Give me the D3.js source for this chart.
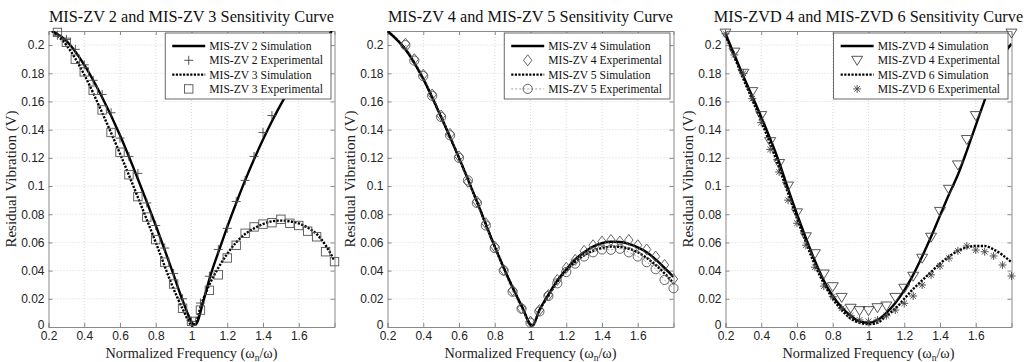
<!DOCTYPE html>
<html>
<head>
<meta charset="utf-8">
<script src="https://cdn.jsdelivr.net/npm/d3@7"></script>
<style>
  body { margin: 0; background: #fff; }
  svg { display: block; }
</style>
</head>
<body>
<svg id="chart" width="1035" height="362"></svg>
<script>
// axis ticks
const freqTicks = [0.2, 0.4, 0.6, 0.8, 1, 1.2, 1.4, 1.6];
const voltTicks = [0, 0.02, 0.04, 0.06, 0.08, 0.1, 0.12, 0.14, 0.16, 0.18, 0.2];

// panel titles
const titles = [
  'MIS-ZV 2 and MIS-ZV 3 Sensitivity Curve',
  'MIS-ZV 4 and MIS-ZV 5 Sensitivity Curve',
  'MIS-ZVD 4 and MIS-ZVD 6 Sensitivity Curve'
];

// ---- panel 1 : [frequency, volts]
const zv2Sim = [[0.22,0.21],[0.3,0.203],[0.4,0.186],[0.5,0.163],[0.6,0.136],[0.7,0.105],[0.8,0.072],
  [0.9,0.037],[0.95,0.019],[1.02,0.0015],[1.07,0.02],[1.1,0.034],[1.15,0.053],[1.2,0.071],[1.25,0.088],
  [1.3,0.104],[1.35,0.119],[1.4,0.133],[1.45,0.146],[1.5,0.158],[1.6,0.178],[1.7,0.196],[1.785,0.21]];
const zv2Exp = [[0.25,0.207],[0.3,0.204],[0.35,0.197],[0.4,0.186],[0.45,0.175],[0.5,0.165],[0.55,0.152],
  [0.6,0.134],[0.65,0.121],[0.7,0.109],[0.75,0.088],[0.8,0.072],[0.85,0.056],[0.9,0.038],[0.95,0.02],
  [1.0,0.004],[1.05,0.017],[1.1,0.036],[1.15,0.055],[1.2,0.07],[1.25,0.089],[1.3,0.104],[1.35,0.121],
  [1.4,0.138],[1.45,0.15]];
const zv3Sim = [[0.22,0.21],[0.3,0.2],[0.4,0.179],[0.5,0.152],[0.6,0.123],[0.7,0.092],[0.8,0.06],
  [0.9,0.027],[0.95,0.013],[1.01,0.0005],[1.06,0.018],[1.1,0.03],[1.15,0.042],[1.2,0.052],[1.25,0.06],
  [1.3,0.066],[1.35,0.07],[1.4,0.073],[1.45,0.075],[1.5,0.0755],[1.55,0.075],[1.6,0.0735],[1.65,0.0705],
  [1.7,0.066],[1.75,0.058],[1.8,0.047]];
const zv3Exp = [[0.25,0.209],[0.3,0.202],[0.35,0.19],[0.4,0.181],[0.45,0.168],[0.5,0.154],[0.55,0.138],
  [0.6,0.124],[0.65,0.108],[0.7,0.0925],[0.75,0.078],[0.8,0.062],[0.85,0.046],[0.9,0.0305],[0.95,0.0133],
  [1.0,0.004],[1.05,0.012],[1.1,0.026],[1.15,0.037],[1.2,0.049],[1.25,0.058],[1.3,0.0665],[1.35,0.071],
  [1.4,0.073],[1.45,0.074],[1.5,0.0764],[1.55,0.0736],[1.6,0.072],[1.65,0.068],[1.7,0.064],[1.75,0.0534],
  [1.8,0.0464]];

// ---- panel 2
const zv4Sim = [[0.2,0.21],[0.3,0.197],[0.4,0.176],[0.5,0.149],[0.6,0.12],[0.7,0.089],[0.8,0.057],
  [0.9,0.028],[0.95,0.015],[1.01,0.001],[1.05,0.012],[1.1,0.023],[1.15,0.033],[1.2,0.041],[1.25,0.048],
  [1.3,0.053],[1.35,0.057],[1.4,0.0595],[1.45,0.0605],[1.5,0.0603],[1.55,0.059],[1.6,0.0565],[1.65,0.053],
  [1.7,0.048],[1.75,0.042],[1.8,0.0355]];
const zv4Exp = [[0.3,0.201],[0.35,0.19],[0.4,0.179],[0.45,0.165],[0.5,0.15],[0.55,0.137],[0.6,0.121],
  [0.65,0.103],[0.7,0.089],[0.75,0.0736],[0.8,0.057],[0.85,0.0405],[0.9,0.026],[0.95,0.0133],[1.0,0.0038],
  [1.05,0.012],[1.1,0.0227],[1.15,0.0334],[1.2,0.042],[1.25,0.0476],[1.3,0.054],[1.35,0.058],[1.4,0.0606],
  [1.45,0.0617],[1.5,0.0606],[1.55,0.0617],[1.6,0.058],[1.65,0.055],[1.7,0.05],[1.75,0.044],[1.8,0.034]];
const zv5Sim = [[0.2,0.21],[0.3,0.197],[0.4,0.176],[0.5,0.149],[0.6,0.12],[0.7,0.089],[0.8,0.057],
  [0.9,0.028],[0.95,0.015],[1.01,0.001],[1.05,0.012],[1.1,0.022],[1.15,0.032],[1.2,0.04],[1.25,0.046],
  [1.3,0.051],[1.35,0.054],[1.4,0.056],[1.45,0.057],[1.5,0.0568],[1.55,0.0555],[1.6,0.053],[1.65,0.049],
  [1.7,0.044],[1.75,0.038],[1.8,0.031]];
const zv5Exp = [[0.3,0.2],[0.35,0.189],[0.4,0.178],[0.45,0.164],[0.5,0.149],[0.55,0.136],[0.6,0.12],
  [0.65,0.104],[0.7,0.088],[0.75,0.072],[0.8,0.056],[0.85,0.04],[0.9,0.025],[0.95,0.013],[1.0,0.003],
  [1.05,0.011],[1.1,0.022],[1.15,0.031],[1.2,0.039],[1.25,0.045],[1.3,0.05],[1.35,0.053],[1.4,0.055],
  [1.45,0.0548],[1.5,0.0555],[1.55,0.053],[1.6,0.05],[1.65,0.046],[1.7,0.041],[1.75,0.0334],[1.8,0.0275]];

// ---- panel 3
const zvd4Sim = [[0.2,0.208],[0.3,0.178],[0.4,0.149],[0.5,0.117],[0.55,0.098],[0.6,0.08],[0.65,0.063],
  [0.7,0.047],[0.75,0.033],[0.8,0.022],[0.85,0.014],[0.9,0.008],[0.95,0.004],[1.0,0.003],[1.05,0.005],
  [1.1,0.01],[1.15,0.017],[1.2,0.026],[1.25,0.037],[1.3,0.05],[1.35,0.064],[1.4,0.079],[1.45,0.094],
  [1.5,0.108],[1.55,0.125],[1.6,0.143],[1.65,0.161],[1.7,0.178],[1.75,0.192],[1.8,0.201]];
const zvd4Exp = [[0.2,0.2085],[0.25,0.195],[0.3,0.18],[0.35,0.167],[0.4,0.15],[0.45,0.1315],[0.5,0.116],
  [0.55,0.1],[0.6,0.081],[0.65,0.064],[0.7,0.052],[0.75,0.0376],[0.8,0.0286],[0.85,0.021],[0.9,0.0133],
  [0.95,0.0116],[1.0,0.0116],[1.05,0.0137],[1.1,0.0149],[1.15,0.021],[1.2,0.0275],[1.25,0.036],
  [1.3,0.0488],[1.35,0.0637],[1.4,0.082],[1.45,0.0977],[1.5,0.115],[1.55,0.133],[1.6,0.15],[1.8,0.2085]];
const zvd6Sim = [[0.2,0.207],[0.3,0.176],[0.4,0.146],[0.5,0.113],[0.55,0.095],[0.6,0.077],[0.65,0.06],
  [0.7,0.044],[0.75,0.031],[0.8,0.02],[0.85,0.012],[0.9,0.006],[0.95,0.003],[1.0,0.002],[1.05,0.003],
  [1.1,0.008],[1.15,0.013],[1.2,0.02],[1.25,0.027],[1.3,0.033],[1.35,0.039],[1.4,0.045],[1.45,0.05],
  [1.5,0.054],[1.55,0.0565],[1.6,0.0575],[1.65,0.0575],[1.7,0.055],[1.75,0.051],[1.8,0.046]];
const zvd6Exp = [[0.2,0.208],[0.25,0.193],[0.3,0.18],[0.35,0.162],[0.4,0.145],[0.45,0.126],[0.5,0.11],
  [0.55,0.09],[0.6,0.0736],[0.65,0.058],[0.7,0.0424],[0.75,0.029],[0.8,0.0215],[0.85,0.0133],[0.9,0.008],
  [0.95,0.005],[1.0,0.004],[1.05,0.005],[1.1,0.008],[1.15,0.012],[1.2,0.0168],[1.25,0.022],[1.3,0.0298],
  [1.35,0.037],[1.4,0.0433],[1.45,0.0488],[1.5,0.054],[1.55,0.0575],[1.6,0.0546],[1.65,0.0534],
  [1.7,0.0504],[1.75,0.044],[1.8,0.0362]];

const panels = [
  {left: 48.5, title: titles[0], series: [
    {name: 'MIS-ZV 2 Simulation', data: zv2Sim, line: 'solid'},
    {name: 'MIS-ZV 2 Experimental', data: zv2Exp, marker: 'plus'},
    {name: 'MIS-ZV 3 Simulation', data: zv3Sim, line: 'dotted'},
    {name: 'MIS-ZV 3 Experimental', data: zv3Exp, marker: 'square'}]},
  {left: 387.5, title: titles[1], series: [
    {name: 'MIS-ZV 4 Simulation', data: zv4Sim, line: 'solid'},
    {name: 'MIS-ZV 4 Experimental', data: zv4Exp, marker: 'diamond'},
    {name: 'MIS-ZV 5 Simulation', data: zv5Sim, line: 'dotted'},
    {name: 'MIS-ZV 5 Experimental', data: zv5Exp, marker: 'circle', line: 'thin'}]},
  {left: 725.5, title: titles[2], series: [
    {name: 'MIS-ZVD 4 Simulation', data: zvd4Sim, line: 'solid'},
    {name: 'MIS-ZVD 4 Experimental', data: zvd4Exp, marker: 'triangle'},
    {name: 'MIS-ZVD 6 Simulation', data: zvd6Sim, line: 'dotted'},
    {name: 'MIS-ZVD 6 Experimental', data: zvd6Exp, marker: 'star'}]}
];

const plotW = 286, plotTop = 31, plotBottom = 327;
const serif = '"Liberation Serif", "Times New Roman", serif';
const sans = '"Liberation Sans", Arial, sans-serif';
const svg = d3.select('#chart');

function lineStyle(sel, kind) {
  if (kind === 'solid') sel.attr('stroke', '#000').attr('stroke-width', 2.4);
  else if (kind === 'dotted') sel.attr('stroke', '#000').attr('stroke-width', 2.4).attr('stroke-dasharray', '2.2,1.4');
  else sel.attr('stroke', '#777').attr('stroke-width', 0.7).attr('stroke-dasharray', '2,2');
  return sel.attr('fill', 'none');
}

function drawMarker(g, kind, cx, cy) {
  const col = '#444';
  if (kind === 'plus') {
    g.append('path').attr('d', `M${cx-4.5},${cy}H${cx+4.5}M${cx},${cy-4.5}V${cy+4.5}`)
      .attr('stroke', col).attr('stroke-width', 0.9).attr('fill', 'none');
  } else if (kind === 'square') {
    g.append('rect').attr('x', cx-4.2).attr('y', cy-4.2).attr('width', 8.4).attr('height', 8.4)
      .attr('stroke', '#555').attr('stroke-width', 0.9).attr('fill', 'none');
  } else if (kind === 'diamond') {
    g.append('path').attr('d', `M${cx},${cy-5.5}L${cx+4.2},${cy}L${cx},${cy+5.5}L${cx-4.2},${cy}Z`)
      .attr('stroke', '#555').attr('stroke-width', 0.9).attr('fill', 'none');
  } else if (kind === 'circle') {
    g.append('circle').attr('cx', cx).attr('cy', cy).attr('r', 4.6)
      .attr('stroke', '#555').attr('stroke-width', 0.9).attr('fill', 'none');
  } else if (kind === 'triangle') {
    g.append('path').attr('d', `M${cx-5.5},${cy-4}L${cx+5.5},${cy-4}L${cx},${cy+5}Z`)
      .attr('stroke', '#444').attr('stroke-width', 0.9).attr('fill', 'none');
  } else if (kind === 'star') {
    const r = 4;
    g.append('path').attr('d', `M${cx-r},${cy}H${cx+r}M${cx},${cy-r}V${cy+r}` +
      `M${cx-r*0.7},${cy-r*0.7}L${cx+r*0.7},${cy+r*0.7}M${cx-r*0.7},${cy+r*0.7}L${cx+r*0.7},${cy-r*0.7}`)
      .attr('stroke', col).attr('stroke-width', 0.9).attr('fill', 'none');
  }
}

panels.forEach((p, pi) => {
  const x = d3.scaleLinear().domain([0.2, 1.8]).range([p.left, p.left + plotW]);
  const y = d3.scaleLinear().domain([0, 0.21]).range([plotBottom, plotTop]);
  const g = svg.append('g');

  // grid
  g.append('g').selectAll('line').data(freqTicks.slice(1)).join('line')
    .attr('x1', d => x(d)).attr('x2', d => x(d)).attr('y1', plotTop).attr('y2', plotBottom)
    .attr('stroke', '#c8c8c8').attr('stroke-width', 0.7).attr('stroke-dasharray', '1,2');
  g.append('g').selectAll('line').data(voltTicks.slice(1)).join('line')
    .attr('x1', p.left).attr('x2', p.left + plotW).attr('y1', d => y(d)).attr('y2', d => y(d))
    .attr('stroke', '#c8c8c8').attr('stroke-width', 0.7).attr('stroke-dasharray', '1,2');

  // axes (ticks pointing inward, box all round)
  const axB = g.append('g').attr('transform', `translate(0,${plotBottom})`)
    .call(d3.axisBottom(x).tickValues(freqTicks).tickSize(-4).tickPadding(6).tickFormat(d => String(d)));
  const axT = g.append('g').attr('transform', `translate(0,${plotTop})`)
    .call(d3.axisTop(x).tickValues(freqTicks).tickSize(-4).tickFormat(''));
  const axL = g.append('g').attr('transform', `translate(${p.left},0)`)
    .call(d3.axisLeft(y).tickValues(voltTicks).tickSize(-4).tickPadding(4).tickFormat(d => String(d)));
  const axR = g.append('g').attr('transform', `translate(${p.left + plotW},0)`)
    .call(d3.axisRight(y).tickValues(voltTicks).tickSize(-4).tickFormat(''));
  [axB, axT, axL, axR].forEach(a => {
    a.select('.domain').attr('stroke', '#8a8a8a');
    a.selectAll('.tick line').attr('stroke', '#8a8a8a');
    a.selectAll('text').attr('font-family', sans).attr('font-size', 12).attr('fill', '#222');
  });
  axB.selectAll('text').attr('dy', '0.62em');
  // lift the "0" label a little, as it sits right above the first x label
  axL.selectAll('.tick').filter(d => d === 0).select('text').attr('dy', '0.1em');

  // clip
  const clipId = 'clip' + pi;
  svg.append('clipPath').attr('id', clipId).append('rect')
    .attr('x', p.left).attr('y', plotTop).attr('width', plotW).attr('height', plotBottom - plotTop);

  const line = d3.line().x(d => x(d[0])).y(d => y(d[1])).curve(d3.curveMonotoneX);
  const plotG = g.append('g');
  p.series.forEach(s => {
    if (s.line) {
      plotG.append('path').datum(s.data).attr('d', line).attr('clip-path', `url(#${clipId})`)
        .call(sel => lineStyle(sel, s.line));
    }
  });
  p.series.forEach(s => {
    if (s.marker) s.data.forEach(d => drawMarker(plotG, s.marker, x(d[0]), y(d[1])));
  });

  // title
  g.append('text').attr('x', p.left + plotW / 2).attr('y', 22).attr('text-anchor', 'middle')
    .attr('font-family', serif).attr('font-size', 16.3).attr('fill', '#111').text(p.title);

  // axis labels
  const xl = g.append('text').attr('x', p.left + plotW / 2).attr('y', 358).attr('text-anchor', 'middle')
    .attr('font-family', serif).attr('font-size', 14.3).attr('fill', '#222');
  xl.append('tspan').text('Normalized Frequency (ω');
  xl.append('tspan').attr('font-size', 9.5).attr('dy', 3).text('n');
  xl.append('tspan').attr('dy', -3).text('/ω)');
  g.append('text').attr('transform', `translate(${p.left - 32.5},${(plotTop + plotBottom) / 2}) rotate(-90)`)
    .attr('text-anchor', 'middle').attr('font-family', serif).attr('font-size', 15).attr('fill', '#222')
    .text('Residual Vibration (V)');

  // legend
  const lg = g.append('g');
  const box = lg.append('rect').attr('fill', '#fff').attr('stroke', '#444').attr('stroke-width', 0.8);
  const texts = p.series.map((s, i) => lg.append('text').attr('y', 46 + i * 14.3).attr('dy', '0.35em')
    .attr('font-family', serif).attr('font-size', 11.6).attr('fill', '#111').text(s.name));
  const maxW = d3.max(texts, t => t.node().getComputedTextLength());
  const boxW = 44 + maxW + 8;
  const bx = p.left + plotW - 3.5 - boxW;
  box.attr('x', bx).attr('y', 33).attr('width', boxW).attr('height', 66);
  texts.forEach(t => t.attr('x', bx + 44));
  p.series.forEach((s, i) => {
    const ly = 46 + i * 14.3;
    if (s.line) {
      lg.append('line').attr('x1', bx + 7).attr('x2', bx + 40).attr('y1', ly).attr('y2', ly)
        .call(sel => lineStyle(sel, s.line));
    }
    if (s.marker) drawMarker(lg, s.marker, bx + 23.5, ly);
  });
});
</script>
</body>
</html>
